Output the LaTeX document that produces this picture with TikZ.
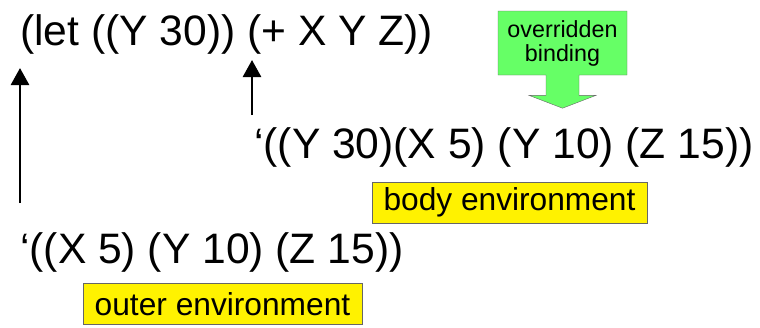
\documentclass[tikz,border=0pt]{standalone}
\usepackage{fontspec}
\setmainfont{Liberation Sans}
\usetikzlibrary{positioning,arrows.meta,shapes.arrows}

\begin{document}
\begin{tikzpicture}[x=1pt,y=-1pt,>={Triangle[length=17pt,width=18pt]},
  code/.style={font=\fontsize{42.6}{50}\selectfont,inner sep=0pt,anchor=base west},
  envBox/.style={draw=black!60,fill=yellow,font=\fontsize{31.7}{36}\selectfont,
    minimum height=41pt,inner sep=0pt},
  bindBox/.style={arrow box,draw=black!60,fill=green!60!white,align=center,
    font=\fontsize{23.3}{24}\selectfont,inner sep=0pt,
    minimum width=129pt,minimum height=64pt,
    arrow box arrows={south:33pt},arrow box shaft width=33pt,
    arrow box head extend=17pt,arrow box head indent=0pt,arrow box tip angle=138},
  up/.style={->,line width=2.7pt}]
\useasboundingbox (0,0) rectangle (760,327);

% the three expressions
\node[code] (letExpr) at (20,45) {(let ((Y 30)) (+ X Y Z))};
\node[code] (bodyExpr) at (254,158) {‘((Y 30)(X 5) (Y 10) (Z 15))};
\node[code] (outerExpr) at (20,263) {‘((X 5) (Y 10) (Z 15))};

% labels
\node[envBox,minimum width=275pt] (bodyLabel) at (509.5,202.5) {body environment};
\node[envBox,minimum width=279pt] (outerLabel) at (222.5,304) {outer environment};
\node[bindBox] (override) at (562.5,43) {overridden\\binding};

% arrows up to the let form
\coordinate (outerFoot) at (20,203);
\coordinate (letStart) at (20,68);
\draw[up] (outerFoot)--(letStart);
\coordinate (bodyFoot) at (252,115);
\coordinate (plusStart) at (252,60);
\draw[up] (bodyFoot)--(plusStart);
\end{tikzpicture}
\end{document}
